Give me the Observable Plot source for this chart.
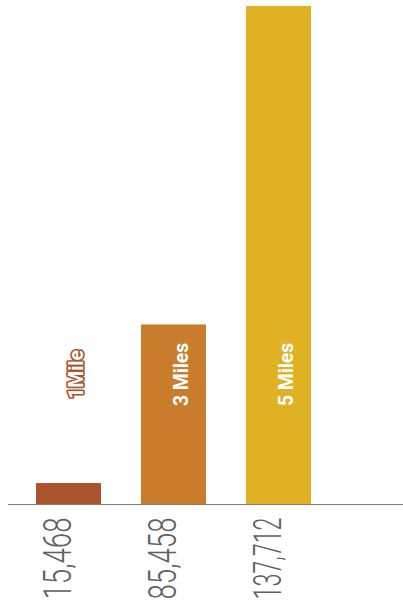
<!DOCTYPE html>
<html>
<head>
<meta charset="utf-8">
<script src="https://cdn.jsdelivr.net/npm/d3@7"></script>
<script src="https://cdn.jsdelivr.net/npm/@observablehq/plot@0.6"></script>
<style>
  html, body { margin: 0; padding: 0; background: #fff; }
  #chart svg { display: block; }
</style>
</head>
<body>
<div id="chart"></div>
<script>
// Categories (radius rings)
const categories = ["1 Mile", "3 Miles", "5 Miles"];
// Labels drawn on/above the bars
const barLabels = ["1Mile", "3 Miles", "5 Miles"];
// Population tick labels under each bar
const populationLabels = ["15,468", "85,458", "137,712"];
// Bar values (ring area, square miles)
const areaValues = [3.3, 28.3, 78.5];
// Bar colours
const barColors = ["#a9542a", "#c97c2c", "#e1b124"];

const data = categories.map((c, i) => ({
  cat: c,
  value: areaValues[i],
  label: barLabels[i],
  pop: populationLabels[i]
}));

const chart = Plot.plot({
  width: 403,
  height: 608,
  marginTop: 6,
  marginBottom: 104,
  marginLeft: 8,
  marginRight: 0,
  style: { background: "#fff", fontFamily: "Roboto, sans-serif" },
  x: { domain: categories, range: [8, 340], paddingInner: 0.377, paddingOuter: 0.255, axis: null },
  y: { domain: [0, 78.5], axis: null },
  color: { domain: categories, range: barColors },
  marks: [
    Plot.barY(data, { x: "cat", y: "value", fill: "cat" }),
    Plot.ruleY([0], { stroke: "#7d7d77", strokeWidth: 1 }),
    Plot.text(data, {
      x: "cat", y: 0, text: "pop", rotate: -90, textAnchor: "end",
      dy: 13, dx: -10, fontSize: 39, fontWeight: 300, fill: "#606060",
      fontFamily: "Roboto", className: "poplabel"
    }),
    Plot.text(data.slice(1), {
      x: "cat", y: 20.5, text: "label", rotate: -90, textAnchor: "middle",
      dx: 7, fontSize: 21, fontWeight: "bold", fill: "#fff",
      fontFamily: "Roboto", className: "barlabel"
    }),
    Plot.text(data.slice(0, 1), {
      x: "cat", y: 20.5, text: "label", rotate: -90, textAnchor: "middle",
      dx: 7, fontSize: 21, fontWeight: "bold", fill: "#fff",
      stroke: barColors[0], strokeWidth: 3.5,
      fontFamily: "Roboto", className: "barlabel"
    })
  ]
});

document.getElementById("chart").appendChild(chart);

// condense the tick-label text along its reading direction, keeping it inside the picture
d3.select(chart).selectAll(".poplabel text").each(function() {
  const t = this.getAttribute("transform") || "";
  const len = this.getComputedTextLength();
  const s = Math.min(0.73, 82 / len);
  this.setAttribute("transform", t + ` scale(${s},1)`);
});
d3.select(chart).selectAll(".barlabel text").each(function() {
  const t = this.getAttribute("transform") || "";
  this.setAttribute("transform", t + " scale(0.92,1)");
});
</script>
</body>
</html>
